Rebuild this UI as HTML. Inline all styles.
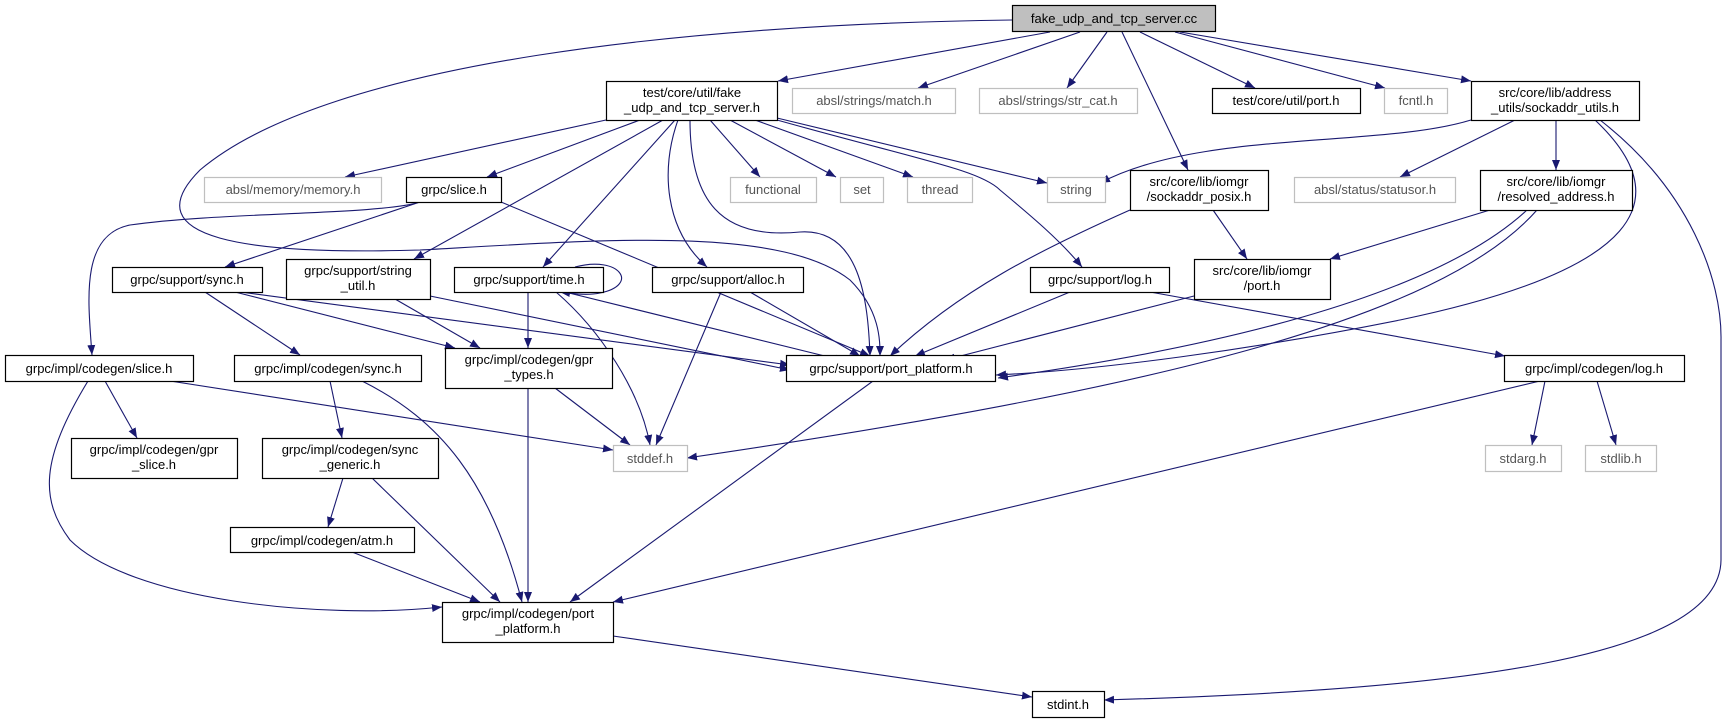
<!DOCTYPE html>
<html><head><meta charset="utf-8"><style>
html,body{margin:0;padding:0;background:#fff;}
svg{display:block;}
text{font-family:"Liberation Sans",sans-serif;font-size:13px;}
</style></head><body>
<svg width="1723" height="723" viewBox="0 0 1723 723" xmlns="http://www.w3.org/2000/svg">
<defs>
<marker id="a" viewBox="0 0 10 10" refX="10" refY="5" markerWidth="10" markerHeight="10" markerUnits="userSpaceOnUse" orient="auto">
<path d="M0,1 L10,5 L0,9 z" fill="#191970"/>
</marker>
</defs>
<g fill="none" stroke="#191970" stroke-width="1.1" marker-end="url(#a)">
<!-- from cc -->
<path d="M1050,32 L778,81"/>
<path d="M1080,32 L918,88"/>
<path d="M1107,32 L1067,88"/>
<path d="M1122,32 L1188,170"/>
<path d="M1140,32 L1255,88"/>
<path d="M1175,32 L1385,88"/>
<path d="M1180,32 L1471,81"/>
<path d="M1012,20 C700,24 330,60 200,170 C130,240 250,255 420,250 C600,240 780,225 850,280 C880,310 880,340 880,356"/>
<!-- from fake_udp_and_tcp_server.h -->
<path d="M606,120 L345,177"/>
<path d="M640,120 L487,177"/>
<path d="M663,120 L414,259"/>
<path d="M675,120 L543,267"/>
<path d="M678,120 C660,170 665,230 707,267"/>
<path d="M690,120 C690,200 720,240 800,232 C860,228 868,300 870,356"/>
<path d="M710,120 L760,177"/>
<path d="M730,120 L836,177"/>
<path d="M755,120 L913,177"/>
<path d="M777,118 L1047,183"/>
<path d="M777,120 C920,160 980,170 1000,190 C1030,215 1060,240 1082,267"/>
<!-- slice.h -->
<path d="M420,202 C380,215 220,212 130,225 C80,235 88,300 92,355"/>
<path d="M420,202 L225,267"/>
<path d="M501,202 L870,356"/>
<!-- support sync.h -->
<path d="M205,292 L300,355"/>
<path d="M235,292 L455,348"/>
<path d="M240,292 L790,365"/>
<!-- string_util -->
<path d="M395,299 L480,348"/>
<path d="M430,296 L790,370"/>
<!-- time.h -->
<path d="M575,267 C620,255 640,285 600,293 C585,296 570,293 560,292"/>
<path d="M528,292 L528,348"/>
<path d="M556,292 C600,330 640,390 650,445"/>
<path d="M565,292 L845,361"/>
<!-- alloc -->
<path d="M721,292 L656,445"/>
<path d="M750,292 L860,356"/>
<!-- sockaddr_posix -->
<path d="M1130,210 C1040,250 960,290 890,356"/>
<path d="M1213,210 L1247,259"/>
<!-- log.h -->
<path d="M1070,292 L915,356"/>
<path d="M1150,292 L1505,356"/>
<!-- iomgr port -->
<path d="M1194,296 L945,360"/>
<!-- sockaddr_utils -->
<path d="M1471,120 C1380,148 1200,130 1100,183"/>
<path d="M1515,120 L1400,177"/>
<path d="M1556,120 L1556,170"/>
<path d="M1595,120 C1680,200 1640,270 1400,320 C1250,350 1100,370 996,375"/>
<path d="M1600,120 C1690,190 1722,280 1721,340 L1721,560 C1720,660 1450,690 1104,700"/>
<!-- resolved_address -->
<path d="M1490,210 L1330,259"/>
<path d="M1527,210 C1430,300 1200,350 998,378"/>
<path d="M1537,210 C1440,320 1150,390 687,458"/>
<!-- support port_platform -->
<path d="M873,381 L570,602"/>
<!-- codegen log -->
<path d="M1545,381 L1532,445"/>
<path d="M1597,381 L1616,445"/>
<path d="M1540,381 L613,602"/>
<!-- codegen slice -->
<path d="M105,381 L137,438"/>
<path d="M170,381 L613,450"/>
<path d="M88,381 C40,460 40,500 70,540 C130,600 320,620 442,607"/>
<!-- codegen sync -->
<path d="M330,381 L342,438"/>
<path d="M362,381 C440,420 490,480 522,602"/>
<!-- gpr_types -->
<path d="M528,388 L528,602"/>
<path d="M555,388 L630,445"/>
<!-- sync_generic -->
<path d="M343,478 L328,527"/>
<path d="M372,478 L500,602"/>
<!-- atm -->
<path d="M352,552 L480,602"/>
<!-- codegen port_platform -->
<path d="M613,636 L1032,697"/>
</g>
<g stroke-width="1.2" fill="#fff">
<rect x="1012.5" y="5.5" width="203" height="26" fill="#bfbfbf" stroke="#000"/>
<rect x="606.5" y="81.5" width="171" height="39" stroke="#000"/>
<rect x="792.5" y="88.5" width="163" height="25" stroke="#bfbfbf"/>
<rect x="979.5" y="88.5" width="158" height="25" stroke="#bfbfbf"/>
<rect x="1212.5" y="88.5" width="148" height="25" stroke="#000"/>
<rect x="1384.5" y="88.5" width="63" height="25" stroke="#bfbfbf"/>
<rect x="1471.5" y="81.5" width="168" height="39" stroke="#000"/>
<rect x="204.5" y="177.5" width="177" height="25" stroke="#bfbfbf"/>
<rect x="406.5" y="177.5" width="95" height="25" stroke="#000"/>
<rect x="730.5" y="177.5" width="86" height="25" stroke="#bfbfbf"/>
<rect x="840.5" y="177.5" width="43" height="25" stroke="#bfbfbf"/>
<rect x="907.5" y="177.5" width="65" height="25" stroke="#bfbfbf"/>
<rect x="1047.5" y="177.5" width="58" height="25" stroke="#bfbfbf"/>
<rect x="1130.5" y="170.5" width="138" height="40" stroke="#000"/>
<rect x="1294.5" y="177.5" width="161" height="25" stroke="#bfbfbf"/>
<rect x="1480.5" y="170.5" width="152" height="40" stroke="#000"/>
<rect x="112.5" y="267.5" width="150" height="25" stroke="#000"/>
<rect x="286.5" y="259.5" width="144" height="40" stroke="#000"/>
<rect x="454.5" y="267.5" width="149" height="25" stroke="#000"/>
<rect x="652.5" y="267.5" width="151" height="25" stroke="#000"/>
<rect x="1030.5" y="267.5" width="139" height="25" stroke="#000"/>
<rect x="1194.5" y="259.5" width="136" height="40" stroke="#000"/>
<rect x="5.5" y="355.5" width="188" height="26" stroke="#000"/>
<rect x="234.5" y="355.5" width="187" height="26" stroke="#000"/>
<rect x="445.5" y="348.5" width="167" height="40" stroke="#000"/>
<rect x="786.5" y="355.5" width="209" height="26" stroke="#000"/>
<rect x="1504.5" y="355.5" width="180" height="26" stroke="#000"/>
<rect x="71.5" y="438.5" width="166" height="40" stroke="#000"/>
<rect x="262.5" y="438.5" width="176" height="40" stroke="#000"/>
<rect x="613.5" y="445.5" width="74" height="26" stroke="#bfbfbf"/>
<rect x="1485.5" y="445.5" width="76" height="26" stroke="#bfbfbf"/>
<rect x="1585.5" y="445.5" width="71" height="26" stroke="#bfbfbf"/>
<rect x="230.5" y="527.5" width="184" height="25" stroke="#000"/>
<rect x="442.5" y="602.5" width="171" height="40" stroke="#000"/>
<rect x="1032.5" y="691.5" width="72" height="26" stroke="#000"/>
</g>
<g text-anchor="middle" fill="#000">
<text x="1114" y="23">fake_udp_and_tcp_server.cc</text>
<text x="692" y="97">test/core/util/fake</text>
<text x="692" y="112">_udp_and_tcp_server.h</text>
<text x="874" y="105" fill="#555">absl/strings/match.h</text>
<text x="1058" y="105" fill="#555">absl/strings/str_cat.h</text>
<text x="1286" y="105">test/core/util/port.h</text>
<text x="1416" y="105" fill="#555">fcntl.h</text>
<text x="1555" y="97">src/core/lib/address</text>
<text x="1555" y="112">_utils/sockaddr_utils.h</text>
<text x="293" y="194" fill="#555">absl/memory/memory.h</text>
<text x="454" y="194">grpc/slice.h</text>
<text x="773" y="194" fill="#555">functional</text>
<text x="862" y="194" fill="#555">set</text>
<text x="940" y="194" fill="#555">thread</text>
<text x="1076" y="194" fill="#555">string</text>
<text x="1199" y="186">src/core/lib/iomgr</text>
<text x="1199" y="201">/sockaddr_posix.h</text>
<text x="1375" y="194" fill="#555">absl/status/statusor.h</text>
<text x="1556" y="186">src/core/lib/iomgr</text>
<text x="1556" y="201">/resolved_address.h</text>
<text x="187" y="284">grpc/support/sync.h</text>
<text x="358" y="275">grpc/support/string</text>
<text x="358" y="290">_util.h</text>
<text x="529" y="284">grpc/support/time.h</text>
<text x="728" y="284">grpc/support/alloc.h</text>
<text x="1100" y="284">grpc/support/log.h</text>
<text x="1262" y="275">src/core/lib/iomgr</text>
<text x="1262" y="290">/port.h</text>
<text x="99" y="373">grpc/impl/codegen/slice.h</text>
<text x="328" y="373">grpc/impl/codegen/sync.h</text>
<text x="529" y="364">grpc/impl/codegen/gpr</text>
<text x="529" y="379">_types.h</text>
<text x="891" y="373">grpc/support/port_platform.h</text>
<text x="1594" y="373">grpc/impl/codegen/log.h</text>
<text x="154" y="454">grpc/impl/codegen/gpr</text>
<text x="154" y="469">_slice.h</text>
<text x="350" y="454">grpc/impl/codegen/sync</text>
<text x="350" y="469">_generic.h</text>
<text x="650" y="463" fill="#555">stddef.h</text>
<text x="1523" y="463" fill="#555">stdarg.h</text>
<text x="1621" y="463" fill="#555">stdlib.h</text>
<text x="322" y="545">grpc/impl/codegen/atm.h</text>
<text x="528" y="618">grpc/impl/codegen/port</text>
<text x="528" y="633">_platform.h</text>
<text x="1068" y="709">stdint.h</text>
</g>
</svg>
</body></html>
